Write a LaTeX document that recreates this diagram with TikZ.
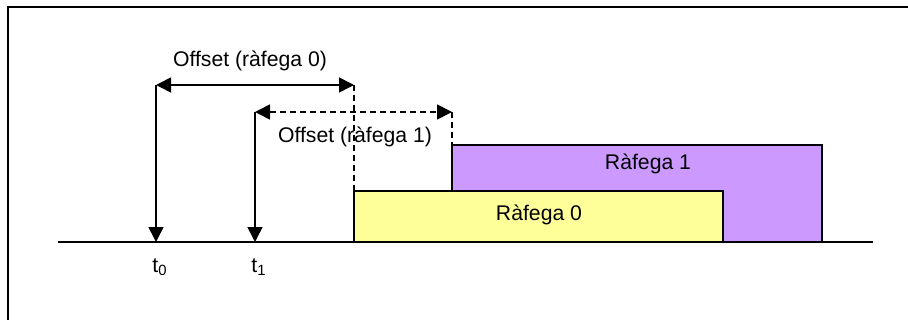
\documentclass[tikz,border=0pt]{standalone}
\usepackage{fontspec}
\setmainfont{Liberation Sans}
\usepackage{tikz}
\usetikzlibrary{positioning,arrows.meta}

\definecolor{burstyellow}{HTML}{FFFF99}
\definecolor{burstpurple}{HTML}{CC99FF}

\tikzset{
  tip/.style={-{Triangle[length=7.5pt,width=7.5pt]}, line width=0.8pt},
  span/.style={{Triangle[length=7.5pt,width=7.5pt]}-{Triangle[length=7.5pt,width=7.5pt]}, line width=0.8pt},
  dashline/.style={line width=0.8pt, dash pattern=on 3pt off 2pt},
  burst/.style={draw, line width=0.75pt, inner sep=0pt, outer sep=0pt, anchor=south west}
}

\begin{document}
\begin{tikzpicture}[x=0.5pt, y=-0.5pt, font=\fontsize{10.6}{12}\selectfont]
  \useasboundingbox (0,0) rectangle (908,320);
  \draw[line width=1pt] (8,320) -- (8,7) -- (908,7);
  % time axis
  \coordinate (ax0) at (58,242);
  \coordinate (ax1) at (873,242);
  \coordinate (t0) at (156,242);
  \coordinate (t1) at (255,242);
  \coordinate (o0a) at (156,85);
  \coordinate (o0b) at (354,85);
  \coordinate (o1a) at (255,112);
  \coordinate (o1b) at (452,112);
  % bursts
  \node[burst, fill=burstpurple, minimum width=185pt, minimum height=48.5pt] (r1) at (452,242) {};
  \node[burst, fill=burstyellow, minimum width=184.5pt, minimum height=25.5pt] (r0) at (354,242) {};
  \draw[line width=1pt] (ax0) -- (ax1);
  \node (lr1) at (648,164) {Ràfega 1};
  \node (lr0) at (539,215) {Ràfega 0};
  % offsets
  \draw[tip] (o0a) -- (t0);
  \draw[tip] (o1a) -- (t1);
  \draw[span] (o0a) -- (o0b);
  \draw[span, dashline] (o1a) -- (o1b);
  \draw[dashline] (o0b) -- (r0.north west);
  \draw[dashline] (o1b) -- (r1.north west);
  \node (lo0) at (250,61) {Offset (ràfega 0)};
  \node (lo1) at (355,137) {Offset (ràfega 1)};
  % labels
  \node (lt0) at (160,267) {t\textsubscript{0}};
  \node (lt1) at (259,267) {t\textsubscript{1}};
\end{tikzpicture}
\end{document}
